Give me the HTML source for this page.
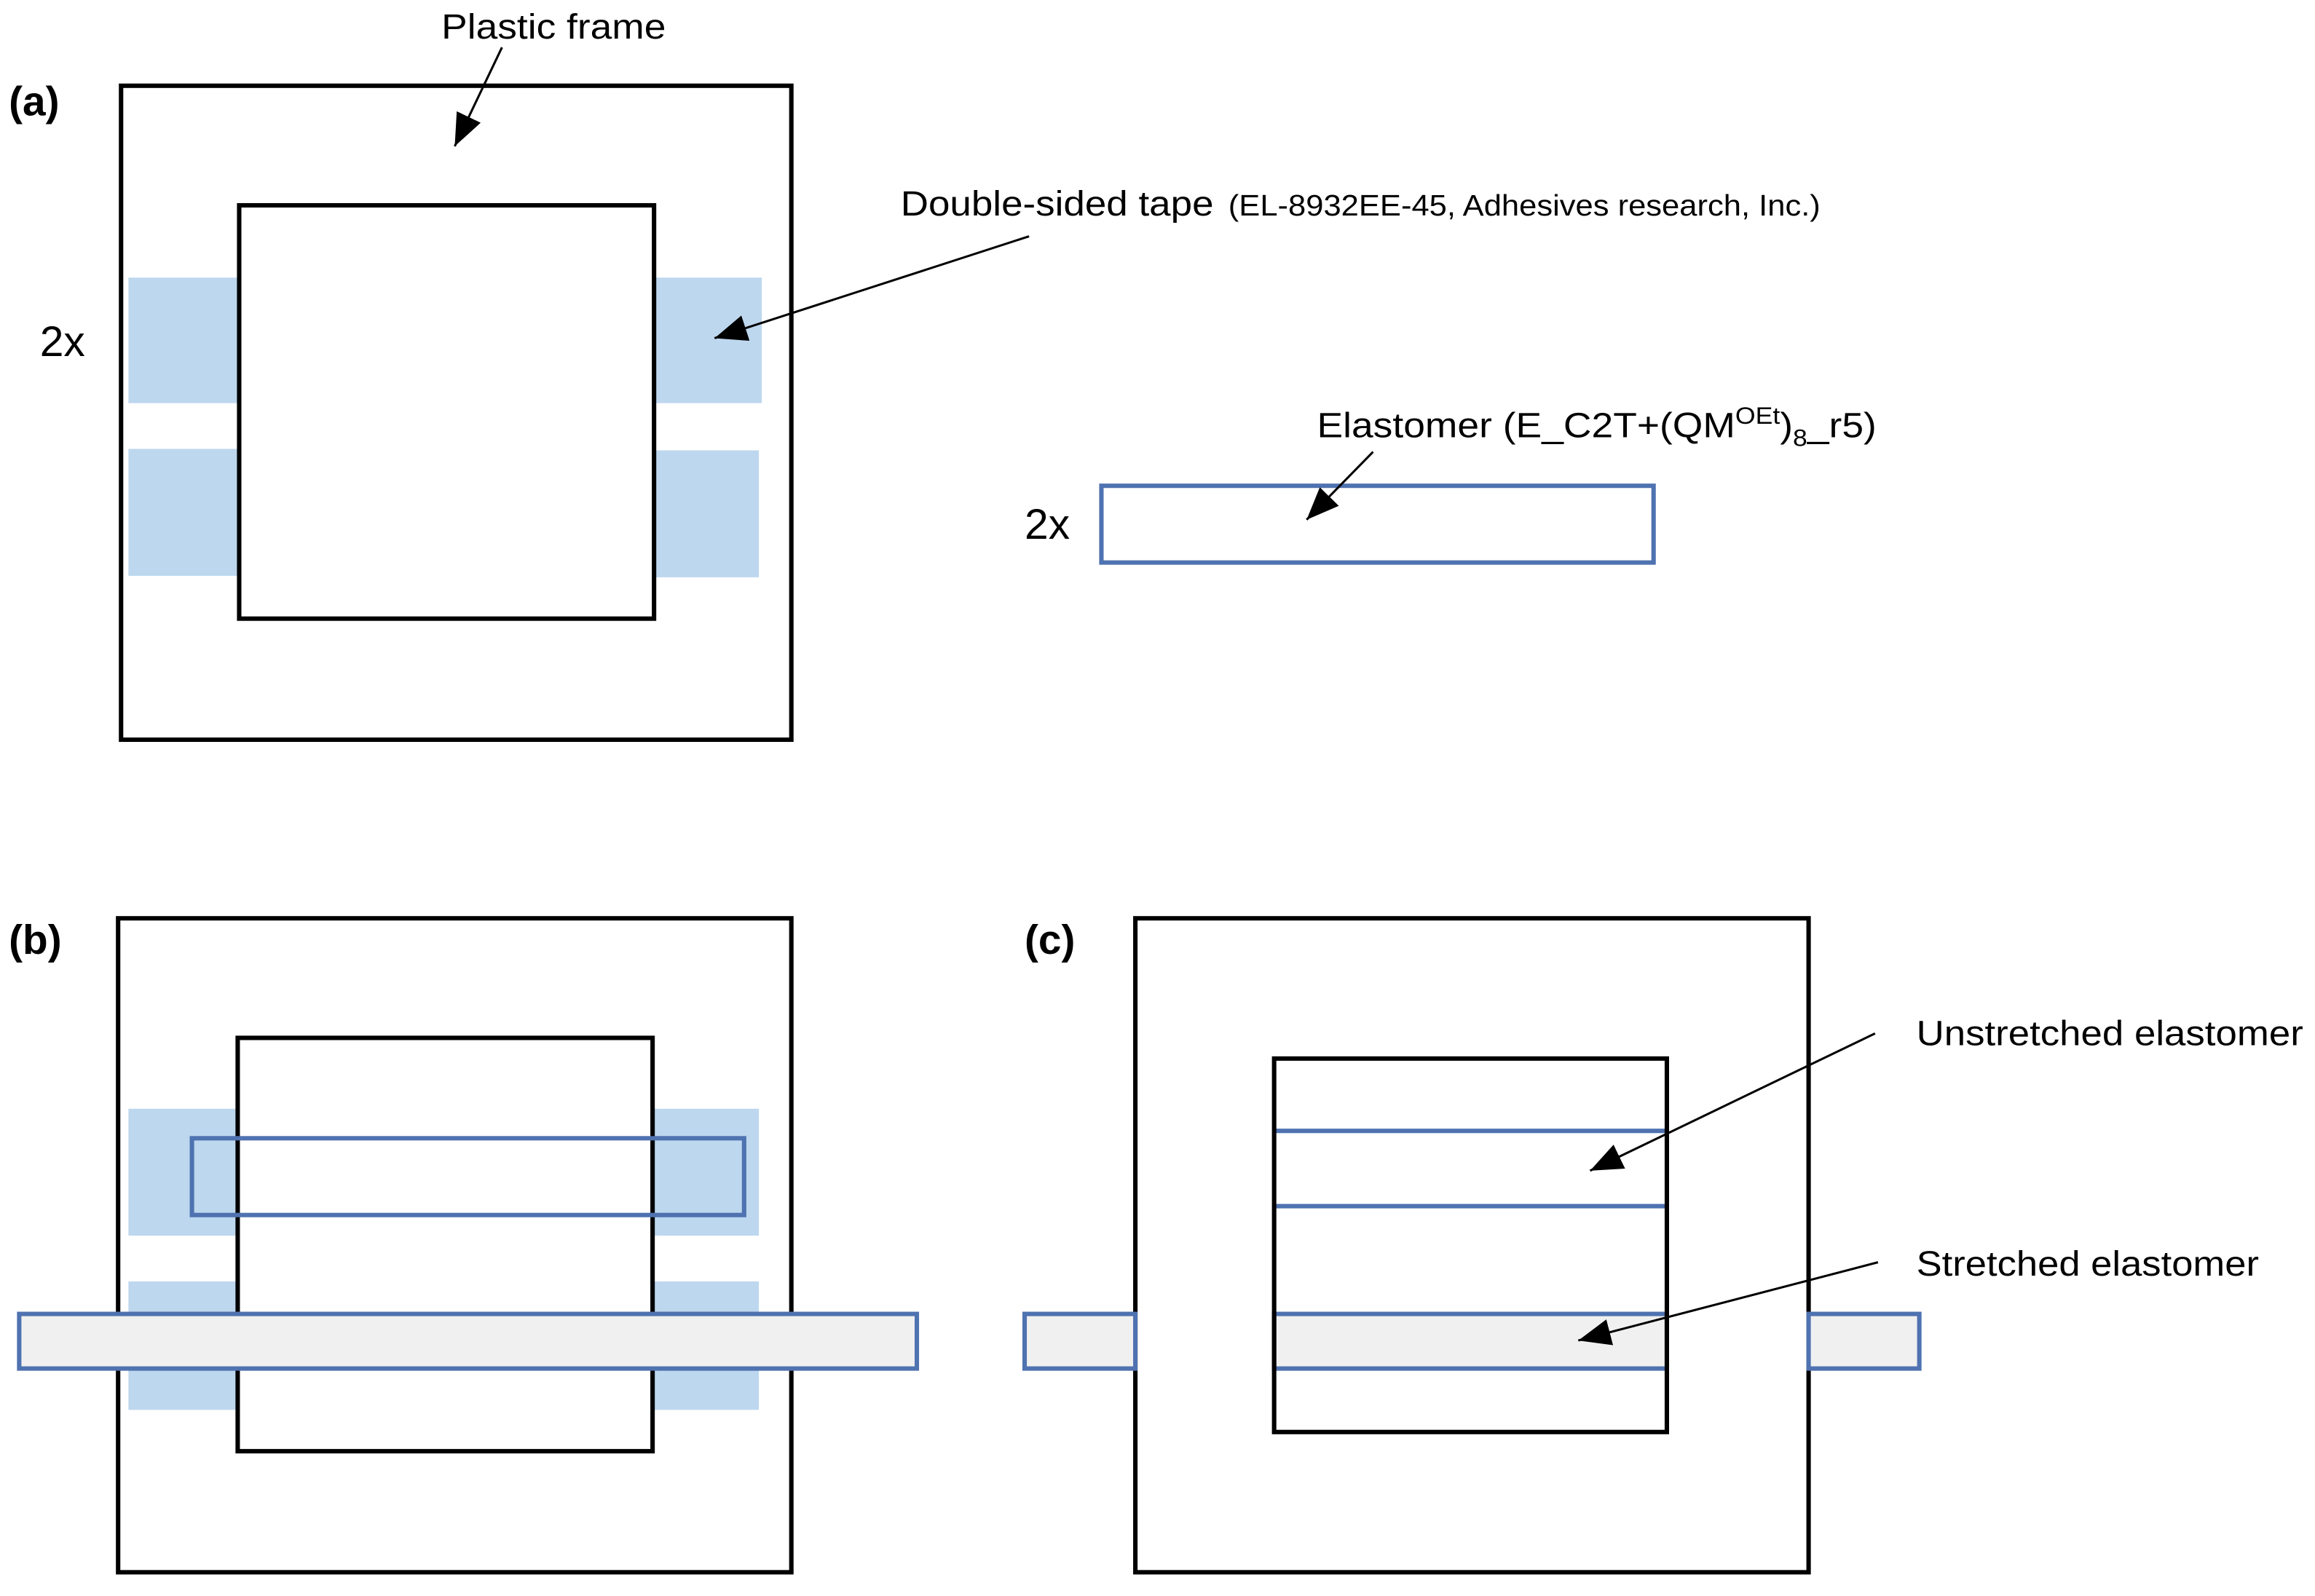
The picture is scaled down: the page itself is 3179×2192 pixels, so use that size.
<!DOCTYPE html>
<html><head><meta charset="utf-8"><style>html,body{margin:0;padding:0;background:#fff}svg{display:block}</style></head>
<body>
<svg width="3179" height="2192" viewBox="0 0 1568 1081" xmlns="http://www.w3.org/2000/svg" font-family="Liberation Sans, Arial, sans-serif">
<defs>
<marker id="ah" viewBox="0 0 22 18" refX="22" refY="9" markerWidth="22" markerHeight="18" markerUnits="userSpaceOnUse" orient="auto"><path d="M0,0 L22,9 L0,18z" fill="#000"/></marker>
</defs>
<rect width="1568" height="1081" fill="#fff"/>
<g fill="#bdd7ee">
<rect x="87" y="188" width="75" height="85"/><rect x="87" y="304" width="75" height="86"/>
<rect x="443" y="188" width="73" height="85"/><rect x="443" y="305" width="71" height="86"/>
<rect x="87" y="751" width="74" height="86"/><rect x="87" y="868" width="74" height="87"/>
<rect x="442" y="751" width="72" height="86"/><rect x="442" y="868" width="72" height="87"/>
</g>
<g fill="none" stroke="#000" stroke-width="3">
<rect x="82" y="58" width="454" height="443"/><rect x="162" y="139" width="281" height="280"/>
<rect x="80" y="622" width="456" height="443"/><rect x="161" y="703" width="281" height="280"/>
<rect x="769" y="622" width="456" height="443"/>
</g>
<rect x="746" y="329" width="374" height="52" fill="none" stroke="#4f72b0" stroke-width="3"/>
<rect x="130" y="771" width="374" height="52" fill="none" stroke="#4f72b0" stroke-width="3"/>
<rect x="13" y="890" width="608" height="37" fill="#f0f0f0" stroke="#4f72b0" stroke-width="3"/>
<rect x="694" y="890" width="75" height="37" fill="#f0f0f0" stroke="#4f72b0" stroke-width="3"/>
<rect x="1225" y="890" width="75" height="37" fill="#f0f0f0" stroke="#4f72b0" stroke-width="3"/>
<rect x="863" y="890" width="266" height="37" fill="#f0f0f0" stroke="#4f72b0" stroke-width="3"/>
<line x1="863" y1="766" x2="1129" y2="766" stroke="#4f72b0" stroke-width="3"/>
<line x1="863" y1="817" x2="1129" y2="817" stroke="#4f72b0" stroke-width="3"/>
<rect x="863" y="717" width="266" height="253" fill="none" stroke="#000" stroke-width="3"/>
<g stroke="#000" stroke-width="1.5" marker-end="url(#ah)">
<line x1="340" y1="32" x2="308" y2="99"/>
<line x1="697" y1="160" x2="484" y2="229"/>
<line x1="930" y1="306" x2="885" y2="352"/>
<line x1="1270" y1="700" x2="1077" y2="793"/>
<line x1="1272" y1="855" x2="1069" y2="908"/>
</g>
<g fill="#000">
<text x="6" y="78" font-size="28" font-weight="bold">(a)</text>
<text x="6" y="646" font-size="28" font-weight="bold">(b)</text>
<text x="694" y="646" font-size="28" font-weight="bold">(c)</text>
<text x="27" y="241" font-size="29">2x</text>
<text x="694" y="365" font-size="29">2x</text>
<text x="299" y="26" font-size="24" textLength="152" lengthAdjust="spacingAndGlyphs">Plastic frame</text>
<text x="610" y="146" font-size="24" textLength="212" lengthAdjust="spacingAndGlyphs">Double-sided tape</text>
<text x="832" y="146" font-size="20" textLength="401" lengthAdjust="spacingAndGlyphs">(EL-8932EE-45, Adhesives research, Inc.)</text>
<text x="892" y="296" font-size="24" textLength="379" lengthAdjust="spacingAndGlyphs">Elastomer (E_C2T+(QM<tspan font-size="16" dy="-9">OEt</tspan><tspan dy="9">)</tspan><tspan font-size="16" dy="6">8</tspan><tspan dy="-6">_r5)</tspan></text>
<text x="1298" y="708" font-size="24" textLength="262" lengthAdjust="spacingAndGlyphs">Unstretched elastomer</text>
<text x="1298" y="864" font-size="24" textLength="232" lengthAdjust="spacingAndGlyphs">Stretched elastomer</text>
</g>
</svg>
</body></html>
